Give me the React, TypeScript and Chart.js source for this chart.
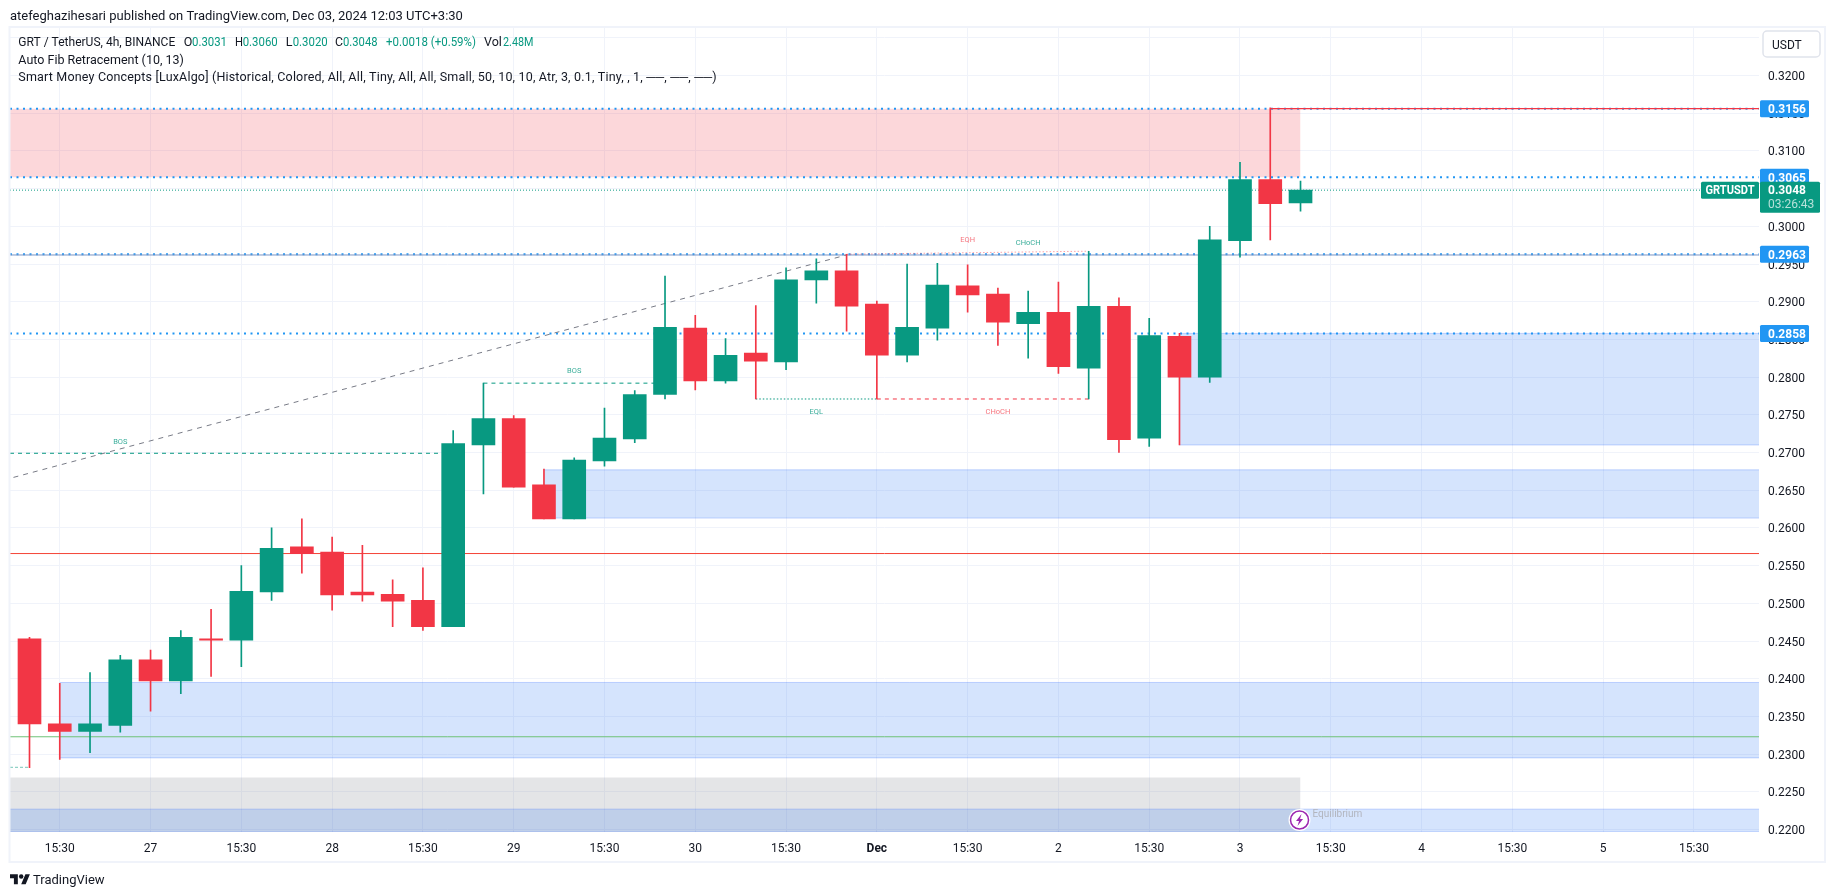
import React, { useEffect, useRef } from "react";
import { Chart, registerables } from "chart.js";

Chart.register(...registerables);

const UP = "#089981";
const DOWN = "#f23645";
const BLUE = "#2196f3";
const INK = "#131722";
const FONT = "Roboto, 'Noto Sans', sans-serif";

const opens = [0.2453,0.2340,0.2330,0.2338,0.2425,0.2397,0.2453,0.2451,0.2515,0.2575,0.2568,0.2515,0.2512,0.2504,0.2469,0.2710,0.2745,0.2657,0.2612,0.2689,0.2718,0.2777,0.2865,0.2795,0.2832,0.2820,0.2929,0.2941,0.2897,0.2829,0.2865,0.2921,0.2910,0.2871,0.2886,0.2812,0.2894,0.2719,0.2854,0.2800,0.2981,0.3062,0.3031];
const highs = [0.2455,0.2394,0.2408,0.2431,0.2438,0.2464,0.2492,0.2550,0.2600,0.2612,0.2588,0.2577,0.2531,0.2547,0.2729,0.2792,0.2749,0.2678,0.2693,0.2759,0.2782,0.2934,0.2882,0.2851,0.2895,0.2945,0.2957,0.2963,0.2901,0.2950,0.2951,0.2949,0.2918,0.2914,0.2926,0.2967,0.2905,0.2878,0.2858,0.3000,0.3085,0.3157,0.3060];
const lows = [0.2282,0.2293,0.2302,0.2329,0.2357,0.2380,0.2403,0.2416,0.2504,0.2540,0.2491,0.2503,0.2469,0.2464,0.2469,0.2645,0.2654,0.2612,0.2612,0.2682,0.2713,0.2771,0.2783,0.2792,0.2771,0.2810,0.2898,0.2861,0.2771,0.2820,0.2849,0.2886,0.2842,0.2825,0.2805,0.2771,0.2700,0.2708,0.2710,0.2793,0.2959,0.2982,0.3020];
const closes = [0.2340,0.2330,0.2340,0.2425,0.2397,0.2455,0.2451,0.2516,0.2573,0.2566,0.2511,0.2511,0.2503,0.2469,0.2712,0.2745,0.2654,0.2612,0.2690,0.2719,0.2777,0.2866,0.2795,0.2829,0.2821,0.2929,0.2941,0.2894,0.2829,0.2866,0.2922,0.2909,0.2873,0.2886,0.2814,0.2894,0.2717,0.2855,0.2800,0.2982,0.3062,0.3030,0.3048];

const tickIndexes = [1,4,7,10,13,16,19,22,25,28,31,34,37,40,43,46,49,52,55];
const tickLabels = ["15:30","27","15:30","28","15:30","29","15:30","30","15:30","Dec","15:30","2","15:30","3","15:30","4","15:30","5","15:30"];

const X_MIN = -0.6445;
const X_MAX = 57.15;
const Y_MIN = 0.21967;
const Y_MAX = 0.32637;

const dottedLevels = [0.3156, 0.3065, 0.2963, 0.2858];
const levelLabels = ["0.3156", "0.3065", "0.2963", "0.2858"];
const lastPrice = 0.3048;

const zoneTops = [0.2395, 0.2677, 0.2858, 0.2227];
const zoneBottoms = [0.2295, 0.2613, 0.2710, Y_MIN];
const zoneStarts = [1, 17, 38, X_MIN];
const pinkZone = [0.3156, 0.3065];
const grayZone = [0.2269, Y_MIN];
const premiumEnd = 42;

const structLabels = ["BOS", "BOS", "EQL", "CHoCH", "EQH", "CHoCH"];
const structX = [3, 18, 26, 32, 31, 33];
const structY = [0.2715, 0.2809, 0.2755, 0.2755, 0.2983, 0.2979];
const structUp = [true, true, true, false, false, true];

const bosLowX = [X_MIN, 14];
const bosLowY = [0.2699, 0.2699];
const bosHighX = [15, 21];
const bosHighY = [0.2792, 0.2792];
const eqlX = [24, 28];
const eqlY = [0.2771, 0.2771];
const chochX = [28, 35];
const chochY = [0.2771, 0.2771];
const eqhX = [27, 35];
const eqhY = [0.2963, 0.2967];
const fibX = [-0.53, 27];
const fibY = [0.2667, 0.2962];
const highLineX = [41, X_MAX];
const highLineY = [0.3156, 0.3156];
const oldLowX = [X_MIN, 0];
const oldLowY = [0.22825, 0.22825];

const legendParts = ["GRT / TetherUS, 4h, BINANCE", "O", "0.3031", "H", "0.3060", "L", "0.3020", "C", "0.3048", "+0.0018 (+0.59%)", "Vol", "2.48M"];

const points = (xs: number[], ys: number[]) => xs.map((x, i) => ({ x, y: ys[i] }));

function lineSet(xs: number[], ys: number[], color: string, width: number, dash: number[], order: number, fill: any = false, bg?: string) {
  return {
    type: "line" as const,
    data: points(xs, ys),
    borderColor: color,
    backgroundColor: bg ?? "transparent",
    borderWidth: width,
    borderDash: dash,
    pointRadius: 0,
    tension: 0,
    fill,
    order,
  };
}

function buildDatasets() {
  const candleColors = closes.map((c, i) => (c >= opens[i] ? UP : DOWN));
  const zoneBorder = "rgba(41,98,255,0.25)";
  const zoneFill = "rgba(33,111,243,0.19)";
  const sets: any[] = [
    {
      type: "bar",
      data: opens.map((o, i) => ({ x: i, y: [o, closes[i]] })),
      backgroundColor: candleColors,
      barThickness: 23,
      grouped: false,
      order: 0,
    },
    {
      type: "bar",
      data: lows.map((l, i) => ({ x: i, y: [l, highs[i]] })),
      backgroundColor: candleColors,
      barThickness: 1,
      grouped: false,
      order: 1,
    },
    lineSet(highLineX, highLineY, DOWN, 1.2, [], 5),
    lineSet(bosLowX, bosLowY, UP, 1, [4, 4], 6),
    lineSet(bosHighX, bosHighY, UP, 1, [4, 4], 6),
    lineSet(eqlX, eqlY, UP, 1, [1.5, 2], 6),
    lineSet(chochX, chochY, DOWN, 1, [4, 4], 6),
    lineSet(eqhX, eqhY, "rgba(242,54,69,0.45)", 1, [1.5, 2], 6),
    lineSet(oldLowX, oldLowY, "rgba(8,153,129,0.55)", 1, [3, 2], 6),
    lineSet(fibX, fibY, "#787b86", 1, [5, 5], 7),
    lineSet([X_MIN, X_MAX], [lastPrice, lastPrice], UP, 1, [1, 2], 8),
    lineSet([X_MIN, X_MAX], [0.2566, 0.2566], "#f44336", 1, [], 9),
    lineSet([X_MIN, X_MAX], [0.2323, 0.2323], "#6fc277", 1, [], 9),
    lineSet([X_MIN, X_MAX], [0.2962, 0.2962], "#7b96c4", 1, [], 9),
  ];
  dottedLevels.forEach((p) => sets.push(lineSet([X_MIN, X_MAX], [p, p], BLUE, 2, [2, 4.5], 10)));
  zoneTops.forEach((t, i) => {
    sets.push(lineSet([zoneStarts[i], X_MAX], [t, t], zoneBorder, 1, [], 20, { value: zoneBottoms[i] }, zoneFill));
    sets.push(lineSet([zoneStarts[i], X_MAX], [zoneBottoms[i], zoneBottoms[i]], zoneBorder, 1, [], 20));
  });
  sets.push(lineSet([X_MIN, premiumEnd], [pinkZone[0], pinkZone[0]], "transparent", 0, [], 21, { value: pinkZone[1] }, "rgba(242,54,69,0.2)"));
  sets.push(lineSet([X_MIN, premiumEnd], [grayZone[0], grayZone[0]], "transparent", 0, [], 22, { value: grayZone[1] }, "rgba(120,123,134,0.2)"));
  return sets;
}

function roundRect(ctx: CanvasRenderingContext2D, x: number, y: number, w: number, h: number, r: number) {
  ctx.beginPath();
  ctx.roundRect(x, y, w, h, r);
}

// Text whose glyphs are centred on the given y.
function label(ctx: CanvasRenderingContext2D, text: string, x: number, cy: number, size: number, color: string, weight = "", maxWidth?: number) {
  ctx.font = `${weight} ${size}px ${FONT}`;
  ctx.fillStyle = color;
  ctx.textBaseline = "alphabetic";
  const y = cy + size * 0.36;
  if (maxWidth) ctx.fillText(text, x, y, maxWidth);
  else ctx.fillText(text, x, y);
}

const overlay = {
  id: "overlay",
  afterDatasetsDraw(chart: any) {
    const { ctx, scales } = chart;
    ctx.save();
    ctx.textAlign = "center";
    structLabels.forEach((t, i) => {
      label(ctx, t, scales.x.getPixelForValue(structX[i]), scales.y.getPixelForValue(structY[i]), 7.5, structUp[i] ? "rgba(8,153,129,0.8)" : "rgba(242,54,69,0.7)");
    });
    ctx.restore();
  },
  afterDraw(chart: any) {
    const { ctx, scales, chartArea } = chart;
    const yOf = (p: number) => scales.y.getPixelForValue(p);
    const right = chartArea.right;
    ctx.save();
    ctx.textAlign = "left";

    ctx.strokeStyle = "#f0f3fa";
    ctx.lineWidth = 2;
    ctx.strokeRect(9.5, 27, 1815.5, 835);

    label(ctx, "atefeghazihesari published on TradingView.com, Dec 03, 2024 12:03 UTC+3:30", 10, 15, 13, INK);

    const partX = [18.3, 183.7, 192, 235, 242.7, 285.7, 292.7, 335, 343, 386, 484, 503];
    const partW = [157, 9, 35, 8, 35, 7, 35, 8, 34.5, 90, 19, 30.5];
    const partC = [INK, INK, UP, INK, UP, INK, UP, INK, UP, UP, INK, UP];
    legendParts.forEach((t, i) => label(ctx, t, partX[i], 41.7, 12.5, partC[i], "", partW[i]));
    label(ctx, "Auto Fib Retracement (10, 13)", 18.3, 59, 12.5, INK);
    (ctx as any).letterSpacing = "0.18px";
    label(ctx, "Smart Money Concepts [LuxAlgo] (Historical, Colored, All, All, Tiny, All, All, Small, 50, 10, 10, Atr, 3, 0.1, Tiny, , 1, ──, ──, ──)", 18.3, 76, 12.5, INK);
    (ctx as any).letterSpacing = "0px";

    ctx.fillStyle = "#ffffff";
    roundRect(ctx, 1763, 31, 57, 26, 4);
    ctx.fill();
    ctx.strokeStyle = "#e0e3eb";
    ctx.lineWidth = 1.5;
    ctx.stroke();
    label(ctx, "USDT", 1772, 44.5, 12, INK);

    dottedLevels.forEach((p, i) => {
      const y = yOf(p);
      ctx.fillStyle = BLUE;
      roundRect(ctx, right + 1, y - 8.5, 49, 17, 1.5);
      ctx.fill();
      label(ctx, levelLabels[i], right + 9, y, 12, "#ffffff", "bold");
    });

    const ly = yOf(lastPrice);
    ctx.fillStyle = UP;
    roundRect(ctx, right + 1, ly - 8.5, 60, 31, 1.5);
    ctx.fill();
    roundRect(ctx, 1701, ly - 8.5, 58, 17, 1.5);
    ctx.fill();
    label(ctx, "GRTUSDT", 1705.5, ly, 12, "#ffffff", "bold", 49);
    label(ctx, "0.3048", right + 9, ly, 12, "#ffffff", "bold");
    label(ctx, "03:26:43", right + 9, ly + 14, 12, "rgba(255,255,255,0.7)");

    label(ctx, "Equilibrium", 1312.5, 813, 10, "#b2b5be");

    const cx = scales.x.getPixelForValue(premiumEnd) - 1;
    const cy = 820;
    ctx.beginPath();
    ctx.arc(cx, cy, 11, 0, Math.PI * 2);
    ctx.fillStyle = "#ffffff";
    ctx.fill();
    ctx.beginPath();
    ctx.arc(cx, cy, 9, 0, Math.PI * 2);
    ctx.strokeStyle = "#9c27b0";
    ctx.lineWidth = 1.5;
    ctx.stroke();
    ctx.beginPath();
    ctx.moveTo(cx + 2, cy - 6);
    ctx.lineTo(cx - 3.5, cy + 1);
    ctx.lineTo(cx - 0.5, cy + 1);
    ctx.lineTo(cx - 2, cy + 6);
    ctx.lineTo(cx + 3.5, cy - 1);
    ctx.lineTo(cx + 0.5, cy - 1);
    ctx.closePath();
    ctx.fillStyle = "#9c27b0";
    ctx.fill();

    ctx.save();
    ctx.translate(10, 872);
    ctx.scale(0.56, 0.56);
    ctx.fillStyle = INK;
    ctx.fill(new Path2D("M14 22H7V11H0V4h14v18zM28 22h-8l7.5-18h8L28 22z"));
    ctx.beginPath();
    ctx.arc(20, 8, 4, 0, Math.PI * 2);
    ctx.fill();
    ctx.restore();

    label(ctx, "TradingView", 33, 879, 13, INK);
    ctx.restore();
  },
};

export default function App() {
  const ref = useRef<HTMLCanvasElement | null>(null);
  useEffect(() => {
    const chart = new Chart(ref.current as HTMLCanvasElement, {
      data: { datasets: buildDatasets() },
      plugins: [overlay],
      options: {
        responsive: false,
        animation: false,
        events: [],
        layout: { padding: { left: 10, top: 27.5, right: 0, bottom: 0 } },
        plugins: { legend: { display: false }, tooltip: { enabled: false }, title: { display: false } },
        scales: {
          x: {
            type: "linear",
            min: X_MIN,
            max: X_MAX,
            offset: false,
            afterBuildTicks: (s: any) => { s.ticks = tickIndexes.map((value) => ({ value })); },
            afterFit: (s: any) => { s.height = 63; },
            grid: { color: "#f0f3fa", drawTicks: false, offset: false },
            border: { display: false },
            ticks: {
              autoSkip: false,
              maxRotation: 0,
              padding: 9.5,
              color: INK,
              font: (c: any) => ({ family: FONT, size: 12, weight: tickLabels[tickIndexes.indexOf(c.tick?.value)] === "Dec" ? "bold" : "normal" }),
              callback: (v: any) => tickLabels[tickIndexes.indexOf(v)] ?? "",
            },
          },
          y: {
            type: "linear",
            position: "right",
            min: Y_MIN,
            max: Y_MAX,
            afterFit: (s: any) => { s.width = 76; },
            grid: { color: "#f0f3fa", drawTicks: false },
            border: { display: false },
            ticks: {
              stepSize: 0.005,
              includeBounds: false,
              padding: 9,
              labelOffset: 1.5,
              color: INK,
              font: { family: FONT, size: 12 },
              callback: (v: any) => Number(v).toFixed(4),
            },
          },
        },
      } as any,
    } as any);
    return () => chart.destroy();
  }, []);
  return (
    <div style={{ position: "absolute", left: 0, top: 0, width: 1835, height: 895, background: "#ffffff" }}>
      <canvas ref={ref} width={1835} height={895} style={{ display: "block" }} />
    </div>
  );
}
